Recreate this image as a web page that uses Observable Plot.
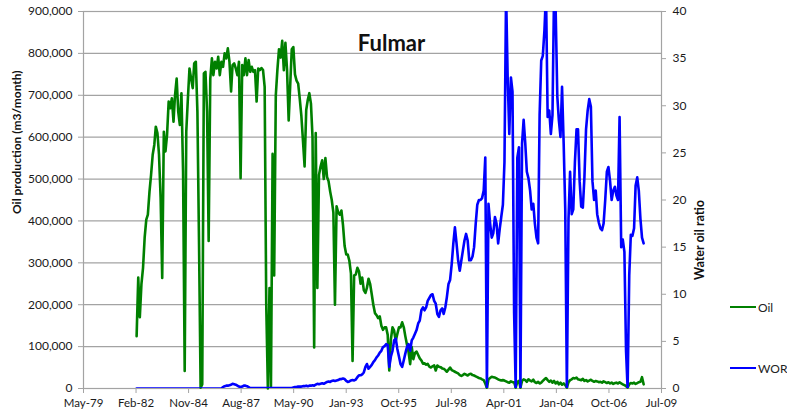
<!DOCTYPE html>
<html><head><meta charset="utf-8">
<script src="https://cdn.jsdelivr.net/npm/d3@7"></script>
<script src="https://cdn.jsdelivr.net/npm/@observablehq/plot@0.6"></script>
<style>
body{margin:0;background:#fff;}
#wrap{position:relative;width:787px;height:416px;font-family:Lato,"Open Sans",sans-serif;}
.leg{position:absolute;font-size:12px;color:#222;display:flex;align-items:center;height:14px;}
.leg .l{display:inline-block;width:26px;height:0;border-top:2.6px solid;margin-right:2px;}
</style></head><body><div id="wrap"></div>
<script>
const title = "Fulmar";
const yLabelLeft = "Oil production (m3/month)";
const yLabelRight = "Water oil ratio";
const seriesNames = ["Oil", "WOR"];
const seriesColors = ["#008000", "#0000ff"];
const startMonth = "1982-03-01"; // first monthly value
const xTickDates = ["1979-05-25","1982-02-18","1984-11-14","1987-08-11","1990-05-07","1993-01-31","1995-10-28","1998-07-24","2001-04-19","2004-01-14","2006-10-11","2009-07-07"];
const oilTicks = [0,100000,200000,300000,400000,500000,600000,700000,800000,900000];
const worTicks = [0,5,10,15,20,25,30,35,40];

// Oil production, m3/month (monthly from Mar-82)
const oil = [
125000,265000,170000,250000,288000,360000,403000,415000,470000,510000,
558000,582000,625000,610000,558000,455000,264000,613000,566000,605000,
685000,669000,693000,637000,700000,740000,661000,629000,705000,518000,
42000,613000,693000,764000,740000,717000,776000,780000,661000,344000,
2000,10000,752000,756000,661000,352000,740000,788000,748000,780000,
764000,792000,748000,780000,768000,800000,788000,812000,780000,709000,
772000,776000,764000,748000,780000,502000,772000,748000,788000,748000,
784000,756000,768000,756000,760000,685000,764000,760000,765000,760000,
720000,200000,0,240000,5000,560000,270000,700000,760000,810000,
790000,830000,760000,825000,760000,640000,720000,810000,815000,750000,
735000,728000,690000,650000,590000,530000,665000,690000,705000,680000,
600000,98000,610000,240000,510000,530000,545000,500000,550000,505000,
495000,470000,450000,420000,200000,435000,420000,415000,425000,390000,
340000,320000,320000,305000,275000,66000,270000,272000,288000,280000,
250000,265000,235000,228000,240000,262000,250000,225000,200000,180000,
175000,168000,172000,150000,140000,146000,146000,128000,43000,118000,
146000,138000,114000,130000,146000,146000,158000,146000,125000,105000,
88000,58000,99000,70000,85000,88000,80000,72000,67000,59000,
60000,57000,59000,52000,50000,53000,55000,43000,55000,52000,
51000,48000,47000,44000,40000,45000,50000,44000,42000,40000,
38000,36000,32000,30000,32000,35000,33000,31000,34000,35000,
32000,31000,29000,27000,25000,24000,22000,20000,12000,2000,
22000,25000,28000,27000,26000,24000,22000,20000,19000,20000,
19000,17000,15000,14000,17000,15000,15000,2000,16000,18000,
2000,18000,22000,20000,16000,22000,19000,17000,21000,15000,
13000,16000,12000,14000,18000,22000,25000,20000,16000,19000,
14000,18000,12000,16000,10000,14000,9000,12000,8000,2000,
15000,20000,22000,25000,24000,26000,22000,21000,20000,23000,
18000,20000,17000,19000,21000,18000,16000,18000,17000,15000,
16000,14000,17000,15000,13000,15000,12000,14000,11000,13000,
14000,12000,15000,12000,10000,8000,6000,2000,10000,13000,
12000,14000,11000,13000,15000,16000,27000,10000
];

// Water oil ratio (monthly from Mar-82); values above 40 are clipped at the chart top
const wor = [
0,0,0,0,0,0,0,0,0,0,
0,0,0,0,0,0,0,0,0,0,
0,0,0,0,0,0,0,0,0,0,
0,0,0,0,0,0,0,0,0,0,
0,0,0,0,0,0,0,0,0,0,
0,0,0,0,0.15,0.25,0.3,0.3,0.35,0.4,
0.5,0.45,0.4,0.3,0.2,0.15,0.2,0.3,0.3,0.25,
0.15,0.05,0.05,0.05,0.05,0.05,0.05,0.05,0.05,0.05,
0.05,0.05,0.05,0.05,0.05,0.05,0.05,0.05,0.05,0.05,
0.05,0.05,0.05,0.05,0.05,0.05,0.05,0.05,0.1,0.15,
0.15,0.2,0.2,0.2,0.25,0.25,0.3,0.25,0.3,0.3,
0.35,0.3,0.4,0.5,0.45,0.5,0.55,0.5,0.6,0.7,
0.75,0.7,0.8,0.85,0.8,0.85,0.9,1.0,1.0,1.05,
1.0,0.8,0.7,0.75,0.85,0.9,0.85,0.95,1.2,1.4,
1.4,1.5,1.7,2.3,2.6,2.1,2.3,2.5,2.8,3.0,
3.3,3.5,3.8,4.0,4.4,4.5,4.7,4.6,2.3,3.4,
4.0,5.1,5.3,4.2,3.4,2.6,2.3,3.0,3.7,4.4,
4.7,4.0,5.1,5.4,5.8,6.2,6.9,7.2,8.3,8.6,
8.3,8.6,9.3,9.6,9.9,10.0,9.3,9.0,7.9,7.6,
8.3,8.5,7.9,8.6,9.7,11.1,11.5,13.2,15.4,17.1,
15.4,13.6,12.5,13.6,14.6,15.7,16.4,15.7,13.6,13.6,
14.0,15.0,17.5,19.5,20.0,20.0,20.2,21.0,24.5,0,
19.6,17.5,16.0,16.5,18.2,17.5,15.4,17.0,18.2,19.5,
24.0,42,33,27,33,31.5,8,0,24.5,25.6,
0,26,28.5,26,23,22.3,21,19,19.6,17.5,
16,15.4,29,34.8,35.3,38,42,28.8,29.5,27,
29,42,40,31,28.5,26.7,32,26,19,0,
18,23,18.5,19,24,27.5,27.5,22,19.3,19.2,
22.4,27.5,29.5,30.7,29.9,22,20,21,18.5,17.6,
17,16.8,17.5,20,23,23.5,22,20,21,21.4,
20.5,20,28.8,15,15.8,14.5,4,0,12,16.3,
16.2,17,21.5,22.4,21,18,16,15.4
];

const oilMax = oilTicks[oilTicks.length - 1];
const worMax = worTicks[worTicks.length - 1];
const k = oilMax / worMax; // secondary axis mapped onto primary scale
const start = new Date(startMonth);
const rows = oil.map((v, i) => ({date: d3.utcMonth.offset(start, i), oil: v, wor: wor[i]}));
const xt = xTickDates.map(d => new Date(d));
const grid = "#a3a3a3";

const chart = Plot.plot({
  width: 787, height: 416,
  marginLeft: 83, marginRight: 126, marginTop: 11, marginBottom: 28,
  style: {fontFamily: "Lato, 'Open Sans', sans-serif", fontSize: "12px", color: "#1a1a1a", background: "#fff"},
  x: {type: "utc", domain: [xt[0], xt[xt.length - 1]]},
  y: {domain: [0, oilMax]},
  marks: [
    Plot.gridY(oilTicks, {stroke: grid, strokeOpacity: 1, strokeWidth: 1.2}),
    Plot.frame({stroke: grid, strokeWidth: 1.2}),
    Plot.axisY(oilTicks, {tickFormat: d3.format(","), tickSize: 5, tickPadding: 6, label: null, stroke: grid}),
    Plot.axisY(worTicks.map(v => v * k), {anchor: "right", tickFormat: d => String(Math.round(d / k)), tickSize: 4, tickPadding: 7, label: null, stroke: grid}),
    Plot.axisX(xt, {tickFormat: d3.utcFormat("%b-%y"), tickSize: 5, tickPadding: 5, fontSize: 11.5, label: null, stroke: grid}),
    Plot.lineY(rows, {x: "date", y: "oil", stroke: seriesColors[0], strokeWidth: 2.6}),
    Plot.lineY(rows, {x: "date", y: d => d.wor * k, stroke: seriesColors[1], strokeWidth: 2.6, clip: true}),
    Plot.text([title], {frameAnchor: "top", dx: 19, dy: 24, fontSize: 22, fontWeight: "bold", fill: "#111"}),
    Plot.text([yLabelLeft], {frameAnchor: "left", dx: -66, dy: 14, rotate: -90, fontWeight: "bold", fontSize: 12, fill: "#111"}),
    Plot.text([yLabelRight], {frameAnchor: "right", dx: 38, dy: 0, rotate: -90, fontWeight: "bold", fontSize: 12.5, fill: "#111"})
  ]
});
const wrap = document.getElementById("wrap");
wrap.appendChild(chart);
const legendY = [307, 368];
seriesNames.forEach((name, i) => {
  const el = document.createElement("div");
  el.className = "leg";
  el.style.left = "730px";
  el.style.top = (legendY[i] - 7) + "px";
  el.innerHTML = `<span class="l" style="border-color:${seriesColors[i]}"></span>${name}`;
  wrap.appendChild(el);
});
</script></body></html>
